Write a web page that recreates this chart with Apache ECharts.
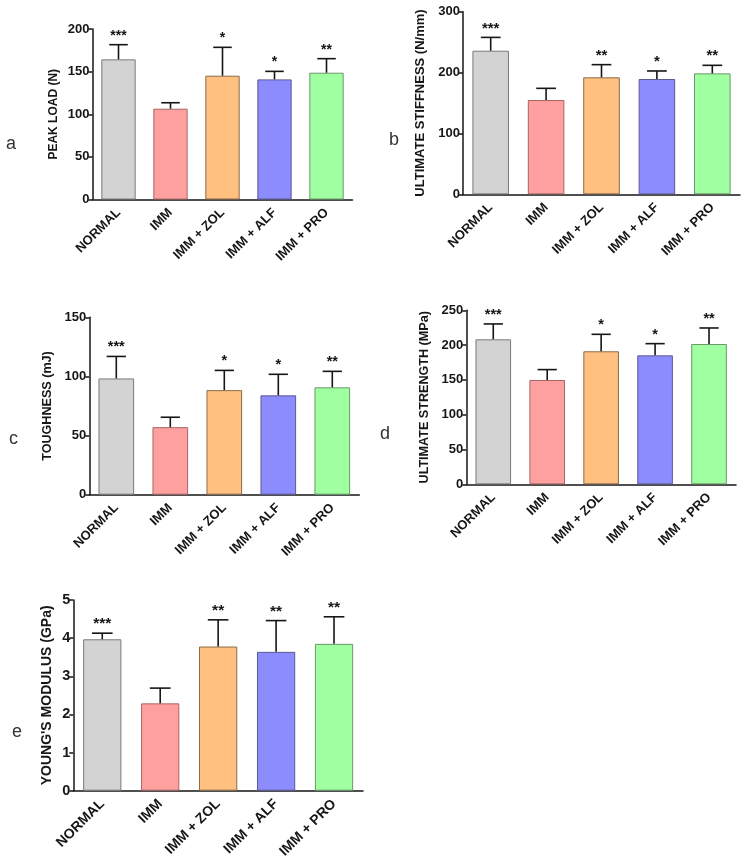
<!DOCTYPE html>
<html><head><meta charset="utf-8">
<script src="https://cdn.jsdelivr.net/npm/echarts@6/dist/echarts.min.js"></script>
<style>html,body{margin:0;padding:0;background:#fff}#c{width:746px;height:868px}</style>
</head><body><div id="c"></div>
<script>
// ---- data ----
const categories = ['NORMAL', 'IMM', 'IMM + ZOL', 'IMM + ALF', 'IMM + PRO'];

const peakLoad    = [164.4, 106.5, 145.2, 140.9, 148.7];
const peakLoadErr = [17.2, 7.0, 33.3, 9.4, 16.5];
const peakLoadSig = ['***', '', '*', '*', '**'];

const stiffness    = [235.9, 154.9, 192.2, 189.4, 198.7];
const stiffnessErr = [21.9, 19.2, 20.8, 13.2, 13.2];
const stiffnessSig = ['***', '', '**', '*', '**'];

const toughness    = [98.3, 57.1, 88.4, 84.0, 90.8];
const toughnessErr = [18.6, 8.4, 16.7, 17.8, 13.5];
const toughnessSig = ['***', '', '*', '*', '**'];

const strength    = [208.3, 149.9, 191.1, 185.3, 201.6];
const strengthErr = [22.1, 14.9, 24.4, 16.8, 23.0];
const strengthSig = ['***', '', '*', '*', '**'];

const modulus    = [3.97, 2.29, 3.78, 3.64, 3.85];
const modulusErr = [0.16, 0.40, 0.70, 0.82, 0.71];
const modulusSig = ['***', '', '**', '**', '**'];

const yTicksA = [0, 50, 100, 150, 200];
const yTicksB = [0, 100, 200, 300];
const yTicksC = [0, 50, 100, 150];
const yTicksD = [0, 50, 100, 150, 200, 250];
const yTicksE = [0, 1, 2, 3, 4, 5];

// ---- style / layout ----
const FONT = "'Liberation Sans', Arial, sans-serif";
const barColors  = ['#d3d3d3', '#ffa0a0', '#ffc080', '#8c8cff', '#a0ffa0'];
const barBorders = ['#7a7a7a', '#a86464', '#8a6a4a', '#5a5a96', '#6a986a'];
const INK = '#161616';

const panels = [
  {values: peakLoad, errors: peakLoadErr, sig: peakLoadSig, ticks: yTicksA, name: 'PEAK LOAD (N)', letter: 'a',
   layout: {left: 92.5, top: 29, width: 260, height: 170.5}, nameGap: 33, nameSize: 12, tickSize: 13, xSize: 13, starSize: 14, letterPos: [12, 145]},
  {values: stiffness, errors: stiffnessErr, sig: stiffnessSig, ticks: yTicksB, name: 'ULTIMATE STIFFNESS (N/mm)', letter: 'b',
   layout: {left: 463, top: 11.7, width: 277, height: 182.6}, nameGap: 36, nameSize: 13, tickSize: 13, xSize: 13, starSize: 15, letterPos: [395, 141]},
  {values: toughness, errors: toughnessErr, sig: toughnessSig, ticks: yTicksC, name: 'TOUGHNESS (mJ)', letter: 'c',
   layout: {left: 89.3, top: 317.3, width: 270, height: 177.4}, nameGap: 35, nameSize: 12.6, tickSize: 13, xSize: 13, starSize: 14.5, letterPos: [15, 440]},
  {values: strength, errors: strengthErr, sig: strengthSig, ticks: yTicksD, name: 'ULTIMATE STRENGTH (MPa)', letter: 'd',
   layout: {left: 466.3, top: 310.3, width: 269.7, height: 174}, nameGap: 35, nameSize: 12.6, tickSize: 13, xSize: 13, starSize: 14.5, letterPos: [386, 435]},
  {values: modulus, errors: modulusErr, sig: modulusSig, ticks: yTicksE, name: "YOUNG'S MODULUS (GPa)", letter: 'e',
   layout: {left: 73.3, top: 600, width: 289.7, height: 190.7}, nameGap: 19, nameSize: 14, tickSize: 14.5, xSize: 14, starSize: 15.5, letterPos: [18, 733]}
];

const grid = [], xAxis = [], yAxis = [], series = [], graphic = [];

panels.forEach((p, k) => {
  grid.push(Object.assign({containLabel: false}, p.layout));
  xAxis.push({
    type: 'category', gridIndex: k, data: categories,
    axisLine: {lineStyle: {color: INK, width: 1.5}},
    axisTick: {alignWithLabel: true, length: 4, lineStyle: {color: INK, width: 1.5}},
    axisLabel: {rotate: 45, interval: 0, margin: 11, color: INK, fontWeight: 'bold', fontFamily: FONT, fontSize: p.xSize}
  });
  const tk = p.ticks;
  yAxis.push({
    type: 'value', gridIndex: k, min: tk[0], max: tk[tk.length - 1], interval: tk[1] - tk[0],
    name: p.name, nameLocation: 'middle', nameGap: p.nameGap,
    nameTextStyle: {color: INK, fontWeight: 'bold', fontFamily: FONT, fontSize: p.nameSize},
    axisLine: {show: true, lineStyle: {color: INK, width: 1.5}},
    axisTick: {show: true, length: 4, lineStyle: {color: INK, width: 1.5}},
    splitLine: {show: false},
    axisLabel: {margin: 3, color: INK, fontWeight: 'bold', fontFamily: FONT, fontSize: p.tickSize}
  });
  series.push({
    type: 'bar', xAxisIndex: k, yAxisIndex: k, barWidth: '66%',
    data: p.values.map((v, i) => ({value: v, itemStyle: {color: barColors[i], borderColor: barBorders[i], borderWidth: 1}})),
    emphasis: {disabled: true}, z: 2
  });
  const sig = p.sig, starSize = p.starSize;
  series.push({
    type: 'custom', xAxisIndex: k, yAxisIndex: k, z: 3,
    encode: {x: 0, y: 1},
    data: p.values.map((v, i) => [i, v, p.errors[i]]),
    renderItem: (params, api) => {
      const i = api.value(0), v = api.value(1), e = api.value(2);
      const base = api.coord([i, v]);
      const top = api.coord([i, v + e]);
      const bw = api.size([1, 0])[0] * 0.66;
      const cap = bw * 0.27;
      const children = [
        {type: 'line', shape: {x1: base[0], y1: base[1], x2: top[0], y2: top[1]}, style: {stroke: INK, lineWidth: 1.6}},
        {type: 'line', shape: {x1: top[0] - cap, y1: top[1], x2: top[0] + cap, y2: top[1]}, style: {stroke: INK, lineWidth: 1.6}}
      ];
      const s = sig[params.dataIndex];
      if (s) {
        children.push({type: 'text', x: top[0], y: top[1] - 9,
          style: {text: s, fill: INK, fontFamily: FONT, fontWeight: 'bold', fontSize: starSize, align: 'center', verticalAlign: 'middle'}});
      }
      return {type: 'group', children};
    }
  });
  graphic.push({type: 'text', left: p.letterPos[0] - 6, top: p.letterPos[1] - 10,
    style: {text: p.letter, fill: '#333', fontFamily: FONT, fontSize: 18}});
});

const chart = echarts.init(document.getElementById('c'), null, {renderer: 'canvas'});
chart.setOption({animation: false, backgroundColor: '#fff', grid, xAxis, yAxis, series, graphic});
</script>
</body></html>
